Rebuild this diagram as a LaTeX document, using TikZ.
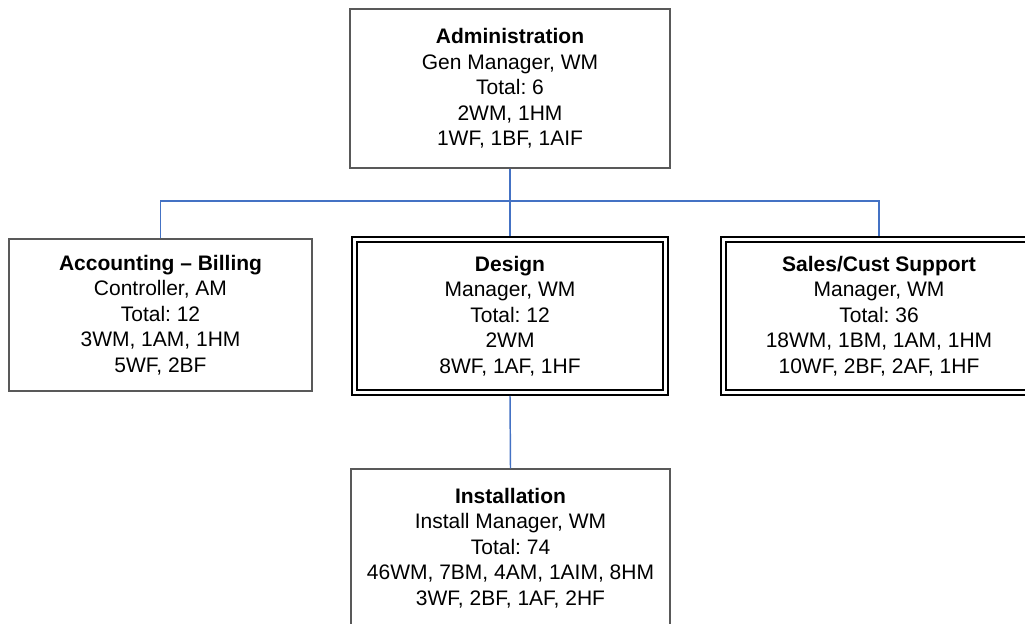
\documentclass[tikz,border=0pt]{standalone}
\usepackage{fontspec}
\setmainfont{Liberation Sans}
\frenchspacing
\usetikzlibrary{positioning,calc}
\definecolor{linkblue}{RGB}{68,114,196}

\begin{document}
\begin{tikzpicture}[
    x=0.75pt, y=-0.75pt,
    unit/.style={rectangle, draw=black!65, line width=1pt, fill=white, align=center,
        font=\fontsize{15.75}{19.1}\selectfont, inner sep=2pt},
    dept/.style={unit, draw=black, line width=1.3pt, double=white, double distance=2.4pt,
        outer sep=2.5pt},
    link/.style={draw, line width=1.1pt, color=linkblue}
]
\clip (0,0) rectangle (1025,624);
\useasboundingbox (0,0) rectangle (1025,624);

% Define node positions
\node[unit, minimum width=240pt, minimum height=119.25pt] (admin) at (510,88.5)
    {\textbf{Administration}\\Gen Manager, WM\\Total: 6\\2WM, 1HM\\1WF, 1BF, 1AIF};
\node[unit, minimum width=227.25pt, minimum height=114pt] (acct) at (160.5,315)
    {\textbf{Accounting -- Billing}\\Controller, AM\\Total: 12\\3WM, 1AM, 1HM\\5WF, 2BF};
\node[dept, minimum width=233.25pt, minimum height=114.75pt] (design) at (510,316)
    {\textbf{Design}\\Manager, WM\\Total: 12\\2WM\\8WF, 1AF, 1HF};
\node[dept, minimum width=233.25pt, minimum height=114.75pt] (sales) at (879,316)
    {\textbf{Sales/Cust Support}\\Manager, WM\\Total: 36\\18WM, 1BM, 1AM, 1HM\\10WF, 2BF, 2AF, 1HF};
\node[unit, minimum width=239.25pt, minimum height=118.5pt] (inst) at (510.5,548)
    {\textbf{Installation}\\Install Manager, WM\\Total: 74\\46WM, 7BM, 4AM, 1AIM, 8HM\\3WF, 2BF, 1AF, 2HF};

% Branch point under the top box
\coordinate (bus) at (510,201);

% Draw connectors
\draw[link] (admin.south) -- (design.north);
\draw[link] (acct.north) |- (bus) -| (sales.north);
\draw[link] (design.south) -- (inst.north);

\end{tikzpicture}
\end{document}
